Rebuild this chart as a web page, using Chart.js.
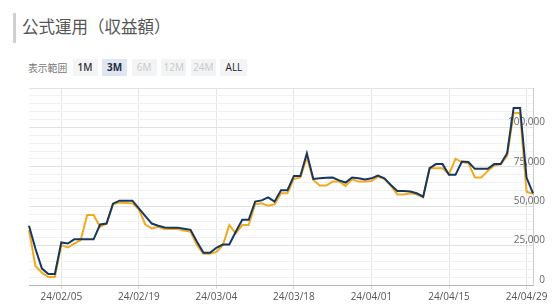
<!DOCTYPE html>
<html>
<head>
<meta charset="utf-8">
<script src="https://cdn.jsdelivr.net/npm/chart.js@4.4.1/dist/chart.umd.min.js"></script>
<style>
  body { margin: 0; background: #fff; width: 555px; height: 307px; overflow: hidden; position: relative; font-family: "Noto Sans CJK JP", "Noto Sans", sans-serif; }
  .bar { position: absolute; left: 13px; top: 13px; width: 2.5px; height: 30px; background: #cfcfcf; }
  .title { position: absolute; left: 22px; top: 14px; font-size: 16.5px; color: #555; }
  .range { position: absolute; left: 28px; top: 59px; height: 17px; display: flex; align-items: center; }
  .range .lbl { font-size: 9.8px; color: #777; width: 44.5px; }
  .btn { width: 25px; height: 17px; line-height: 17px; margin-right: 4.6px; text-align: center; background: #f3f4f6; color: #333; font-family: "Open Sans", sans-serif; font-size: 10px; font-weight: 600; border-radius: 1px; }
  .btn.on { background: #dfe5f1; font-weight: 700; color: #1f2d45; }
  .btn.off { color: #c8c8c8; font-weight: 400; }
  .btn.all { width: 27px; font-weight: 400; color: #222; }
  .wrap { position: absolute; left: 0; top: 70px; width: 555px; height: 237px; }
</style>
</head>
<body>
<div class="bar"></div>
<div class="title">公式運用（収益額）</div>
<div class="range">
  <span class="lbl">表示範囲</span>
  <span class="btn">1M</span>
  <span class="btn on">3M</span>
  <span class="btn off">6M</span>
  <span class="btn off">12M</span>
  <span class="btn off">24M</span>
  <span class="btn all">ALL</span>
</div>
<div class="wrap"><canvas id="chart"></canvas></div>
<script>
// ── Data ─────────────────────────────────────
const dates = [
  '24/01/30', '24/01/31', '24/02/01', '24/02/02', '24/02/03',
  '24/02/05', '24/02/06', '24/02/07', '24/02/08', '24/02/09', '24/02/10',
  '24/02/12', '24/02/13', '24/02/14', '24/02/15', '24/02/16', '24/02/17',
  '24/02/19', '24/02/20', '24/02/21', '24/02/22', '24/02/23', '24/02/24',
  '24/02/26', '24/02/27', '24/02/28', '24/02/29', '24/03/01', '24/03/02',
  '24/03/04', '24/03/05', '24/03/06', '24/03/07', '24/03/08', '24/03/09',
  '24/03/11', '24/03/12', '24/03/13', '24/03/14', '24/03/15', '24/03/16',
  '24/03/18', '24/03/19', '24/03/20', '24/03/21', '24/03/22', '24/03/23',
  '24/03/25', '24/03/26', '24/03/27', '24/03/28', '24/03/29', '24/03/30',
  '24/04/01', '24/04/02', '24/04/03', '24/04/04', '24/04/05', '24/04/06',
  '24/04/08', '24/04/09', '24/04/10', '24/04/11', '24/04/12', '24/04/13',
  '24/04/15', '24/04/16', '24/04/17', '24/04/18', '24/04/19', '24/04/20',
  '24/04/22', '24/04/23', '24/04/24', '24/04/25', '24/04/26', '24/04/27',
  '24/04/29', '24/04/30',
];
const tickDates = ['24/02/05', '24/02/19', '24/03/04', '24/03/18', '24/04/01', '24/04/15', '24/04/29'];

const navySeries = [
  37600, 23000, 10400, 7000, 7000,
  27000, 26300, 29000, 29000, 29000, 29000,
  38400, 39000, 51600, 53500, 53500, 53500,
  48600, 43700, 39000, 37600, 36500, 36400,
  36400, 35700, 35000, 27400, 20400, 20400,
  23600, 25700, 25700, 33800, 41400, 41400,
  52900, 53700, 55600, 52900, 60100, 60100,
  69200, 69200, 83600, 67300, 67700, 68000,
  68200, 66400, 65000, 68200, 67700, 67000,
  67700, 69400, 67700, 63500, 59700, 59700,
  59300, 58200, 56000, 74100, 76700, 76700,
  69900, 69900, 78300, 78000, 73700, 73700,
  73700, 76700, 76700, 83600, 112300, 112300,
  68200, 58200,
];
const goldSeries = [
  34800, 12100, 7800, 5100, 5100,
  25300, 23800, 26300, 28500, 44400, 44400,
  36900, 39000, 51200, 52400, 52100, 51800,
  48000, 38400, 35900, 36900, 35500, 35500,
  35500, 34600, 33800, 25300, 19900, 19900,
  21000, 25300, 38000, 32700, 38000, 38000,
  51200, 51800, 50300, 51200, 58200, 58200,
  67300, 68300, 81000, 66700, 63100, 63100,
  65600, 65600, 62900, 67100, 65600, 65600,
  66000, 68800, 67300, 63100, 57500, 57500,
  58200, 57500, 55600, 74100, 74100, 74100,
  70300, 80100, 78000, 77300, 68200, 68200,
  72400, 75800, 76600, 82000, 109100, 109100,
  59200, 57800,
];

const yMax = 125000;
const yStep = 5000;
const yLabelStep = 25000;

// ── Chart ────────────────────────────────────
const isTickDate = i => tickDates.includes(dates[i]);

new Chart(document.getElementById('chart').getContext('2d'), {
  type: 'line',
  data: {
    labels: dates,
    datasets: [
      { label: 'navy', data: navySeries, borderColor: '#17375e', borderWidth: 2, pointRadius: 0, tension: 0, fill: false },
      { label: 'gold', data: goldSeries, borderColor: '#f2a922', borderWidth: 2, pointRadius: 0, tension: 0, fill: false },
    ],
  },
  options: {
    responsive: true,
    maintainAspectRatio: false,
    animation: false,
    layout: { padding: { left: 29, right: 0, top: 6, bottom: 2 } },
    plugins: { legend: { display: false }, tooltip: { enabled: false } },
    scales: {
      x: {
        offset: false,
        grid: {
          color: c => isTickDate(c.index) ? '#e6e6e6' : 'rgba(0,0,0,0)',
          tickColor: c => isTickDate(c.index) ? '#d6d6d6' : 'rgba(0,0,0,0)',
          tickLength: 4,
        },
        border: { color: '#b4b4b4', width: 1 },
        ticks: {
          autoSkip: false,
          maxRotation: 0,
          padding: 2,
          color: '#555',
          font: { family: 'Open Sans', size: 10 },
          callback: (v, i) => isTickDate(i) ? dates[i] : '',
        },
      },
      y: {
        position: 'right',
        min: 0,
        max: yMax,
        afterFit: s => { s.width = 22; },
        grid: {
          color: c => c.tick && c.tick.value % yLabelStep === 0 ? '#e2e2e2' : '#f1f1f1',
          drawTicks: false,
        },
        border: { color: '#cccccc' },
        ticks: {
          stepSize: yStep,
          autoSkip: false,
          mirror: true,
          padding: 12,
          labelOffset: -5,
          color: '#666',
          font: { family: 'Open Sans', size: 10 },
          callback: v => (v % yLabelStep === 0 && v < yMax) ? v.toLocaleString('en-US') : '',
        },
      },
    },
  },
});
</script>
</body>
</html>
